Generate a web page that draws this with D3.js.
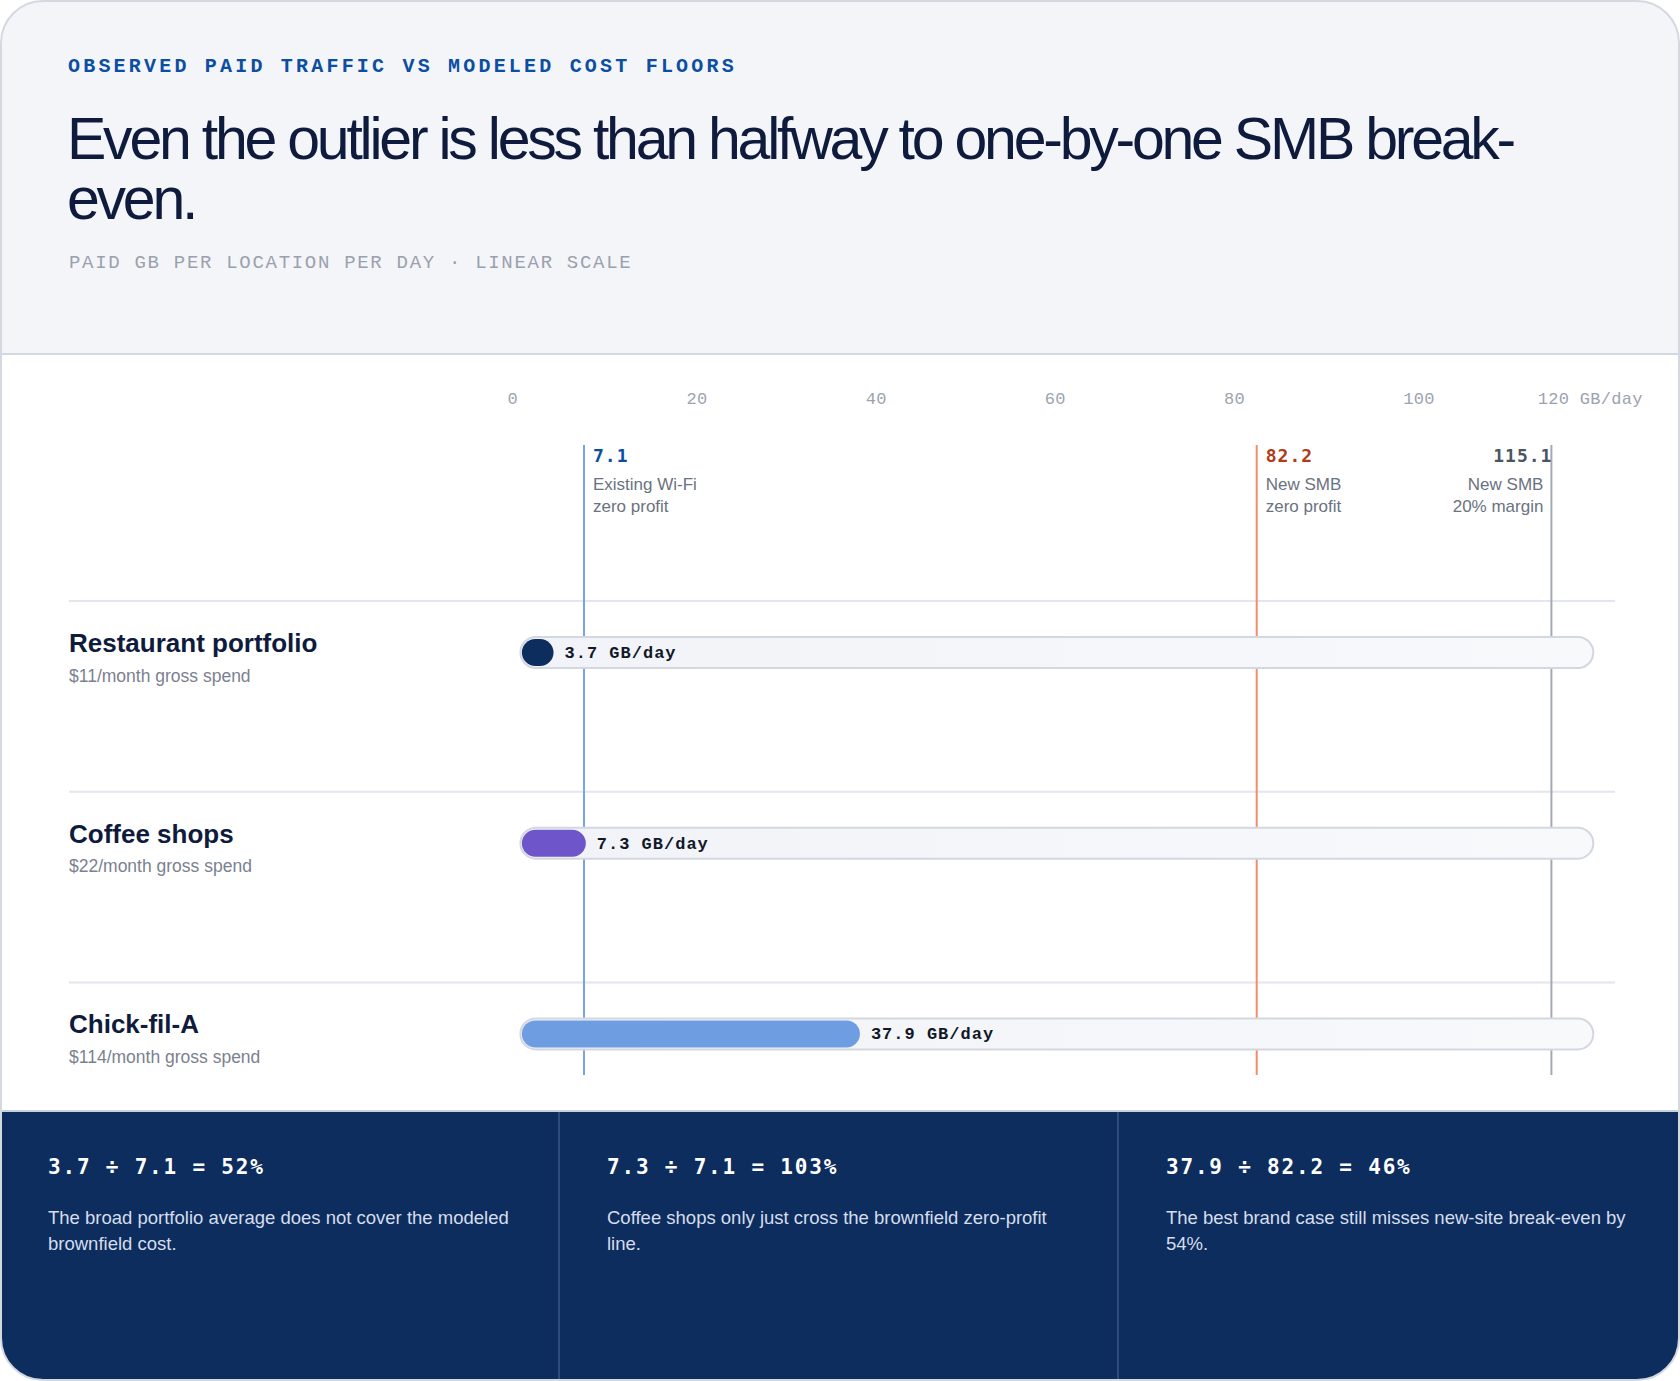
<!DOCTYPE html>
<html>
<head>
<meta charset="utf-8">
<script src="https://cdn.jsdelivr.net/npm/d3@7/dist/d3.min.js"></script>
<style>
  html, body { margin: 0; padding: 0; background: #ffffff; }
  svg { display: block; }
</style>
</head>
<body>
<svg id="chart" width="1680" height="1381"></svg>
<script>
// ---------- DATA ----------
const eyebrowText = "OBSERVED PAID TRAFFIC VS MODELED COST FLOORS";
const titleLines = ["Even the outlier is less than halfway to one-by-one SMB break-", "even."];
const subtitleText = "PAID GB PER LOCATION PER DAY · LINEAR SCALE";

const categories = ["Restaurant portfolio", "Coffee shops", "Chick-fil-A"];
const categorySpend = ["$11/month gross spend", "$22/month gross spend", "$114/month gross spend"];
const seriesValues = [3.7, 7.3, 37.9];
const valueUnit = "GB/day";

const markerValues = [7.1, 82.2, 115.1];
const markerLabels = [["Existing Wi-Fi", "zero profit"], ["New SMB", "zero profit"], ["New SMB", "20% margin"]];

const tickValues = [0, 20, 40, 60, 80, 100, 120];
const tickLabels = ["0", "20", "40", "60", "80", "100", "120 GB/day"];

const calloutFormulas = ["3.7 ÷ 7.1 = 52%", "7.3 ÷ 7.1 = 103%", "37.9 ÷ 82.2 = 46%"];
const calloutTexts = [
  "The broad portfolio average does not cover the modeled brownfield cost.",
  "Coffee shops only just cross the brownfield zero-profit line.",
  "The best brand case still misses new-site break-even by 54%."
];

// ---------- STYLE ----------
const W = 1680, H = 1381;
const SANS = "'Liberation Sans', Arial, Helvetica, sans-serif";
const MONO_SERIF = "'Courier', 'Nimbus Mono PS', 'FreeMono', 'Courier New', monospace";
const MONO_SANS = "'DejaVu Sans Mono', monospace";
const barColors = ["#0d2d5f", "#6e55c9", "#6f9de2"];
const markerLine = ["#7aa3e6", "#f28c6e", "#a3a9b5"];
const markerText = ["#0b4ea2", "#b03a19", "#4b5563"];

const svg = d3.select("#chart");
const defs = svg.append("defs");

defs.append("clipPath").attr("id", "card")
  .append("rect").attr("x", 1).attr("y", 1).attr("width", W - 2).attr("height", H - 2).attr("rx", 42);

const grad = defs.append("linearGradient").attr("id", "track").attr("x1", 0).attr("x2", 1);
grad.append("stop").attr("offset", "0%").attr("stop-color", "#f1f3f8");
grad.append("stop").attr("offset", "100%").attr("stop-color", "#f8f9fb");

const card = svg.append("g").attr("clip-path", "url(#card)");
card.append("rect").attr("width", W).attr("height", H).attr("fill", "#ffffff");
// header
card.append("rect").attr("width", W).attr("height", 354).attr("fill", "#f4f5f9");
card.append("line").attr("x1", 0).attr("x2", W).attr("y1", 354).attr("y2", 354)
  .attr("stroke", "#d3d8e1").attr("stroke-width", 2);

card.append("text").attr("x", 68).attr("y", 72)
  .attr("font-family", MONO_SERIF).attr("font-weight", 700).attr("font-size", 20)
  .attr("letter-spacing", 3.2).attr("fill", "#0b4ea2").text(eyebrowText);

const title = card.append("g").attr("font-family", SANS).attr("font-size", 59)
  .attr("fill", "#0f1b3d");
const titleTexts = titleLines.map((t, i) =>
  title.append("text").attr("x", 67).attr("y", 159 + i * 60).text(t));
// fit tracking of the title to the reference width
(function () {
  const natural = titleTexts[0].node().getComputedTextLength();
  const ls = (1449 - natural) / (titleLines[0].length - 1);
  title.attr("letter-spacing", ls.toFixed(2));
})();

card.append("text").attr("x", 69).attr("y", 268)
  .attr("font-family", MONO_SERIF).attr("font-size", 19)
  .attr("letter-spacing", 1.7).attr("fill", "#9aa1ad").text(subtitleText);

// ---------- SCALES ----------
const x = d3.scaleLinear().domain([0, 120]).range([520.4, 1595.3]);
const y = d3.scaleBand().domain(categories).range([601, 601 + 3 * 190.7]);

// axis labels
const axis = card.append("g");
axis.selectAll("text").data(tickValues).join("text")
  .attr("x", (d, i) => i === tickValues.length - 1 ? x(d) - 5 : x(d) - 13)
  .attr("y", 404)
  .attr("text-anchor", (d, i) => i === tickValues.length - 1 ? "middle" : "start")
  .attr("font-family", MONO_SERIF).attr("font-size", 17).attr("letter-spacing", 0.3)
  .attr("fill", "#9ca3af")
  .text((d, i) => tickLabels[i]);

// row separators
card.append("g").selectAll("line").data(categories).join("line")
  .attr("x1", 69).attr("x2", 1615)
  .attr("y1", d => y(d)).attr("y2", d => y(d))
  .attr("stroke", "#e3e6ec").attr("stroke-width", 2);

// marker lines
const mk = card.append("g");
mk.selectAll("line").data(markerValues).join("line")
  .attr("x1", d => x(d)).attr("x2", d => x(d))
  .attr("y1", 445).attr("y2", 1075)
  .attr("stroke", (d, i) => markerLine[i]).attr("stroke-width", 2);

markerValues.forEach((v, i) => {
  const right = i === markerValues.length - 1;
  const xx = right ? x(v) + 1 : x(v) + 9;
  const dx = right ? x(v) - 8 : x(v) + 9;
  mk.append("text").attr("x", xx).attr("y", 462)
    .attr("text-anchor", right ? "end" : "start")
    .attr("font-family", MONO_SANS).attr("font-weight", 700).attr("font-size", 18)
    .attr("letter-spacing", 1).attr("fill", markerText[i]).text(v.toFixed(1));
  markerLabels[i].forEach((t, j) => {
    mk.append("text").attr("x", dx).attr("y", 490 + j * 22)
      .attr("text-anchor", right ? "end" : "start")
      .attr("font-family", SANS).attr("font-size", 17).attr("fill", "#6b7280").text(t);
  });
});

// rows
const rowsG = card.append("g").selectAll("g").data(categories).join("g")
  .attr("transform", d => `translate(0,${y(d)})`);

rowsG.append("text").attr("x", 69).attr("y", 51)
  .attr("font-family", SANS).attr("font-weight", 700).attr("font-size", 26)
  .attr("fill", "#0f1b3d").text(d => d);
rowsG.append("text").attr("x", 69).attr("y", 80.5)
  .attr("font-family", SANS).attr("font-size", 17.5)
  .attr("fill", "#7b8190").text((d, i) => categorySpend[i]);

const cy = 51.5;
rowsG.append("rect")
  .attr("x", x(0)).attr("y", cy - 15.5)
  .attr("width", x(120) - x(0) - 2).attr("height", 31).attr("rx", 15.5)
  .attr("fill", "url(#track)").attr("stroke", "#d3d7e0").attr("stroke-width", 2);
rowsG.append("rect")
  .attr("x", x(0) + 1.5).attr("y", cy - 13.5)
  .attr("width", (d, i) => Math.max(x(seriesValues[i]) - x(0) - 1.5, 27))
  .attr("height", 27).attr("rx", 13.5)
  .attr("fill", (d, i) => barColors[i]);
rowsG.append("text")
  .attr("x", (d, i) => x(seriesValues[i]) + 11).attr("y", cy + 5.5)
  .attr("font-family", MONO_SERIF).attr("font-weight", 700).attr("font-size", 17)
  .attr("letter-spacing", 1).attr("fill", "#111827")
  .text((d, i) => `${seriesValues[i].toFixed(1)} ${valueUnit}`);

// ---------- CALLOUT PANEL ----------
const panelTop = 1111;
card.append("rect").attr("x", 0).attr("y", panelTop).attr("width", W).attr("height", H - panelTop)
  .attr("fill", "#0d2d5f");
card.append("line").attr("x1", 0).attr("x2", W).attr("y1", panelTop).attr("y2", panelTop)
  .attr("stroke", "#c9cfdb").attr("stroke-width", 2);

const cols = d3.scaleBand().domain(d3.range(calloutFormulas.length)).range([0, 1677]);
const colG = card.append("g").selectAll("g").data(calloutFormulas).join("g")
  .attr("transform", (d, i) => `translate(${cols(i)},0)`);
colG.filter((d, i) => i > 0).append("line")
  .attr("x1", 0).attr("x2", 0).attr("y1", panelTop + 1).attr("y2", H)
  .attr("stroke", "#3a5683").attr("stroke-width", 1.5);
colG.append("text").attr("x", 48).attr("y", 1174)
  .attr("font-family", MONO_SANS).attr("font-weight", 700).attr("font-size", 21)
  .attr("letter-spacing", 1.8).attr("fill", "#ffffff").text(d => d);

colG.each(function (d, i) {
  const g = d3.select(this);
  const t = g.append("text").attr("font-family", SANS).attr("font-size", 18.5)
    .attr("fill", "#d6ddeb");
  const words = calloutTexts[i].split(" ");
  let line = [], lineNo = 0;
  let tspan = t.append("tspan").attr("x", 48).attr("y", 1223.5);
  words.forEach(w => {
    line.push(w);
    tspan.text(line.join(" "));
    if (tspan.node().getComputedTextLength() > 470 && line.length > 1) {
      line.pop();
      tspan.text(line.join(" "));
      line = [w];
      lineNo++;
      tspan = t.append("tspan").attr("x", 48).attr("y", 1223.5 + lineNo * 26.8).text(w);
    }
  });
});

// card outline
svg.append("rect").attr("x", 1).attr("y", 1).attr("width", W - 2).attr("height", H - 2).attr("rx", 42)
  .attr("fill", "none").attr("stroke", "#d3d8e1").attr("stroke-width", 2);
</script>
</body>
</html>
